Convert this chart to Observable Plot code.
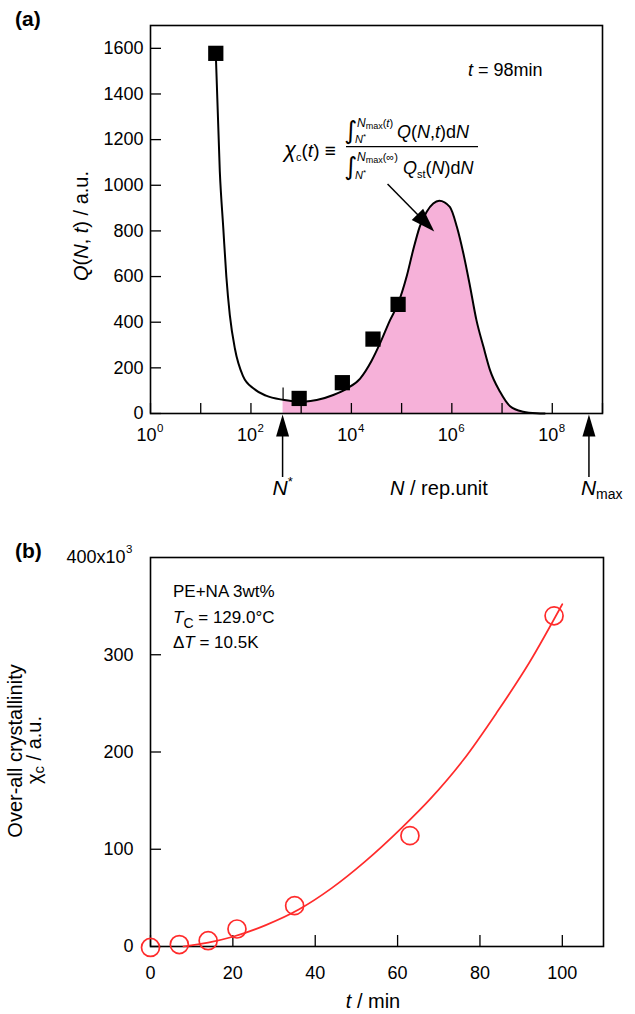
<!DOCTYPE html>
<html>
<head>
<meta charset="utf-8">
<script src="https://cdn.jsdelivr.net/npm/d3@7"></script>
<script src="https://cdn.jsdelivr.net/npm/@observablehq/plot@0.6"></script>
<style>
html,body{margin:0;padding:0;background:#fff;}
#root{width:635px;height:1014px;overflow:hidden;}
#root svg{display:block;}
</style>
</head>
<body>
<div id="root"></div>
<script>
// ---------- Panel (a) data ----------
const squareLogN = [1.30, 2.96, 3.82, 4.43, 4.93];
const squareQ    = [1578, 66, 135, 326, 478];
const curveLogN = [1.30,1.38,1.45,1.51,1.58,1.68,1.84,2.06,2.30,2.64,2.90,3.10,3.31,3.64,3.90,4.17,4.40,4.57,4.77,4.93,5.10,5.23,5.36,5.50,5.63,5.75,5.96,6.10,6.23,6.36,6.49,6.63,6.76,6.96,7.16,7.42,7.69,7.85];
const curveQ    = [1576,1060,810,600,430,285,165,108,78,60,53,53,59,81,108,152,230,307,409,482,600,716,818,884,920,932,905,818,701,560,409,292,190,95,32,8,1,0];
const nStarLog = 2.64;
const nMaxLog = 8.74;
const xTickDecades = [0,1,2,3,4,5,6,7,8,9];
const xLabelDecades = [0,2,4,6,8];
const yTicksA = [0,200,400,600,800,1000,1200,1400,1600];
const arrowFrom = {logN: 4.73, Q: 1003};
const arrowTo   = {logN: 5.66, Q: 795};

// ---------- Panel (b) data ----------
const tMin  = [0, 7, 14, 21, 35, 63, 98];
const chiC  = [-1, 2, 6, 18, 42, 114, 340];
const fitT   = [8, 14, 20, 28, 36, 44, 52, 61, 68, 76, 84, 92, 100];
const fitChi = [0, 4, 10, 22, 38, 60, 87, 122, 152, 192, 240, 292, 352];
const xTicksB = [0, 20, 40, 60, 80, 100];
const yTicksB = [0, 100, 200, 300];
const yTopTick = {value: 400, text: "400x10", exp: "3"};

// ---------- styling ----------
const FONT = "'Liberation Sans', Arial, Helvetica, sans-serif";
const PINK = "#f6b1d9";
const RED = "#ff2b2b";

// ---------- Panel (a) ----------
const A = {w:635, h:510, ml:150, mt:25, mr:33, mb:97};
const innerHA = A.h - A.mt - A.mb, innerWA = A.w - A.ml - A.mr;
const curveData = curveLogN.map((l,i)=>({N: 10**l, Q: curveQ[i], l}));
const fillData = curveData.filter(d => d.l >= nStarLog);
const squares = squareLogN.map((l,i)=>({N: 10**l, Q: squareQ[i]}));

const chartA = Plot.plot({
  width: A.w, height: A.h, marginLeft: A.ml, marginTop: A.mt, marginRight: A.mr, marginBottom: A.mb,
  style: {fontFamily: FONT, fontSize: "18px", background: "white", color: "black", overflow: "visible"},
  x: {type: "log", domain: [1, 1e9], axis: null},
  y: {domain: [0, 1700], axis: null},
  marks: [
    Plot.areaY(fillData, {x: "N", y: "Q", fill: PINK, curve: "monotone-x"}),
    Plot.line(curveData, {x: "N", y: "Q", stroke: "black", strokeWidth: 2, curve: "monotone-x"}),
    Plot.ruleX([10**nStarLog], {y1: 60, y2: 112, stroke: "black", strokeWidth: 1.2}),
    Plot.dot(squares, {x: "N", y: "Q", symbol: "square", r: 8.6, fill: "black"}),
    Plot.tickX(xTickDecades, {x: d => 10**d, insetTop: innerHA - 10, stroke: "black", strokeWidth: 1.3}),
    Plot.tickY(yTicksA, {y: d => d, insetRight: innerWA - 11, stroke: "black", strokeWidth: 1.3}),
    Plot.frame({stroke: "black", strokeWidth: 1.6}),
    Plot.text(yTicksA, {x: 1, y: d => d, text: d => String(d), textAnchor: "end", dx: -7, fontSize: 18}),
    Plot.text(xLabelDecades, {x: d => 10**d, y: 0, text: () => "10", textAnchor: "end", dx: 6, dy: 27, lineAnchor: "bottom", fontSize: 18}),
    Plot.text(xLabelDecades, {x: d => 10**d, y: 0, text: d => String(d), textAnchor: "start", dx: 6.5, dy: 18, lineAnchor: "bottom", fontSize: 11.5})
  ]
});

// ---------- Panel (b) ----------
const B = {w:635, h:504, ml:150, mt:47, mr:32, mb:68};
const innerHB = B.h - B.mt - B.mb, innerWB = B.w - B.ml - B.mr;
const pts = tMin.map((t,i)=>({t, c: chiC[i]}));
const fit = fitT.map((t,i)=>({t, c: fitChi[i]}));

const chartB = Plot.plot({
  width: B.w, height: B.h, marginLeft: B.ml, marginTop: B.mt, marginRight: B.mr, marginBottom: B.mb,
  style: {fontFamily: FONT, fontSize: "18px", background: "white", color: "black", overflow: "visible"},
  x: {domain: [0, 110], axis: null},
  y: {domain: [0, 400], axis: null},
  marks: [
    Plot.tickX(xTicksB, {x: d => d, insetTop: innerHB - 11, stroke: "black", strokeWidth: 1.3}),
    Plot.tickY(yTicksB, {y: d => d, insetRight: innerWB - 11, stroke: "black", strokeWidth: 1.3}),
    Plot.frame({stroke: "black", strokeWidth: 1.6}),
    Plot.line(fit, {x: "t", y: "c", stroke: RED, strokeWidth: 1.7, curve: "monotone-x"}),
    Plot.dot(pts, {x: "t", y: "c", r: 9, stroke: RED, strokeWidth: 1.7, fill: "none"}),
    Plot.text(yTicksB, {x: 0, y: d => d, text: d => String(d), textAnchor: "end", dx: -17, fontSize: 18}),
    Plot.text([yTopTick], {x: 0, y: d => d.value, text: d => d.text, textAnchor: "end", dx: -25, fontSize: 18}),
    Plot.text([yTopTick], {x: 0, y: d => d.value, text: d => d.exp, textAnchor: "start", dx: -24.5, dy: -8, fontSize: 11.5}),
    Plot.text(xTicksB, {x: d => d, y: 0, text: d => String(d), dy: 32, lineAnchor: "bottom", fontSize: 18})
  ]
});

const root = document.getElementById("root");
root.appendChild(chartA);
root.appendChild(chartB);

// ---------- annotation helpers ----------
function rich(g, x, y, parts, o = {}) {
  const t = g.append("text").attr("x", x).attr("y", y)
    .attr("font-size", o.size || 18).attr("text-anchor", o.anchor || "start").attr("fill", "black");
  if (o.weight) t.attr("font-weight", o.weight);
  if (o.family) t.attr("font-family", o.family);
  if (o.rotate) t.attr("transform", `rotate(${o.rotate},${x},${y})`);
  let cur = 0;
  for (const p of parts) {
    const q = typeof p === "string" ? {t: p} : p;
    const off = q.off || 0;
    const s = t.append("tspan").text(q.t);
    if (off - cur !== 0) s.attr("dy", off - cur);
    cur = off;
    if (q.i) s.attr("font-style", "italic");
    if (q.fs) s.attr("font-size", q.fs);
    if (q.dx) s.attr("dx", q.dx);
    if (q.ff) s.attr("font-family", q.ff);
  }
  return t;
}
function upArrow(g, x, yTip, yEnd) {
  g.append("path").attr("d", `M${x},${yTip + 12}V${yEnd}`).attr("stroke", "black").attr("stroke-width", 1.5).attr("fill", "none");
  g.append("path").attr("d", `M${x},${yTip}L${x - 6.5},${yTip + 22}L${x + 6.5},${yTip + 22}Z`).attr("fill", "black");
}
function arrow(g, x1, y1, x2, y2, len, hw) {
  const a = Math.atan2(y2 - y1, x2 - x1);
  const bx = x2 - len * Math.cos(a), by = y2 - len * Math.sin(a);
  const px = -Math.sin(a) * hw, py = Math.cos(a) * hw;
  g.append("path").attr("d", `M${x1},${y1}L${bx + 4*Math.cos(a)},${by + 4*Math.sin(a)}`).attr("stroke", "black").attr("stroke-width", 1.5);
  g.append("path").attr("d", `M${x2},${y2}L${bx + px},${by + py}L${bx - px},${by - py}Z`).attr("fill", "black");
}

// ---------- Panel (a) annotations ----------
const gA = d3.select(chartA).append("g");
const sxA = v => chartA.scale("x").apply(v);
const syA = v => chartA.scale("y").apply(v);
const y0A = syA(0);

rich(gA, 15, 26, ["(a)"], {size: 21, weight: "bold"});
rich(gA, 468, 76, [{t: "t", i: true}, " = 98min"], {size: 18});
rich(gA, 88, 226, [{t: "Q", i: true}, "(", {t: "N", i: true}, ", ", {t: "t", i: true}, ") / a.u."], {size: 20, anchor: "middle", rotate: -90});

// N* and Nmax arrows
upArrow(gA, sxA(10**nStarLog), y0A + 1.5, 477);
upArrow(gA, sxA(10**nMaxLog), y0A + 1.5, 477);
rich(gA, sxA(10**nStarLog) - 10, 495, [{t: "N", i: true}, {t: "*", fs: 13, off: -9}], {size: 21});
rich(gA, 390, 495, [{t: "N", i: true}, " / rep.unit"], {size: 20});
rich(gA, sxA(10**nMaxLog) - 8, 495, [{t: "N", i: true}, {t: "max", fs: 14, off: 4}], {size: 21});

// formula
rich(gA, 284, 157, [{t: "χ", i: true, fs: 22}, {t: "c", fs: 11, off: 4}, {t: "(", off: 0}, {t: "t", i: true}, ") ≡"], {size: 19});
gA.append("line").attr("x1", 346).attr("x2", 478).attr("y1", 146.7).attr("y2", 146.7).attr("stroke", "black").attr("stroke-width", 1.3);
// numerator
rich(gA, 344, 139, ["∫"], {size: 25, family: "'DejaVu Sans', sans-serif"});
rich(gA, 357, 127, [{t: "N", i: true, fs: 12}, {t: "max", fs: 9, off: 2}, {t: "(", off: 0}, {t: "t", i: true}, ")"], {size: 11});
rich(gA, 355, 143, [{t: "N", i: true}, {t: "*", fs: 8, off: -4}], {size: 11});
rich(gA, 397, 137.5, [{t: "Q", i: true}, "(", {t: "N", i: true}, ",", {t: "t", i: true}, ")d", {t: "N", i: true}], {size: 18});
// denominator
rich(gA, 344, 175, ["∫"], {size: 25, family: "'DejaVu Sans', sans-serif"});
rich(gA, 357, 161, [{t: "N", i: true, fs: 12}, {t: "max", fs: 9, off: 2}, {t: "(∞)", off: 0}], {size: 11});
rich(gA, 355, 179, [{t: "N", i: true}, {t: "*", fs: 8, off: -4}], {size: 11});
rich(gA, 403, 173.5, [{t: "Q", i: true}, {t: "st", fs: 11, off: 4}, {t: "(", off: 0}, {t: "N", i: true}, ")d", {t: "N", i: true}], {size: 18});
// pointer arrow
arrow(gA, sxA(10**arrowFrom.logN), syA(arrowFrom.Q), sxA(10**arrowTo.logN), syA(arrowTo.Q), 24, 8);

// ---------- Panel (b) annotations ----------
const gB = d3.select(chartB).append("g");
rich(gB, 15, 48, ["(b)"], {size: 21, weight: "bold"});
rich(gB, 173, 87, ["PE+NA 3wt%"], {size: 17});
rich(gB, 173, 112.5, [{t: "T", i: true}, {t: "C", fs: 14, off: 5}, {t: " = 129.0°C", off: 0}], {size: 17});
rich(gB, 173, 138, ["Δ", {t: "T", i: true}, " = 10.5K"], {size: 17});
rich(gB, 22, 241, ["Over-all crystallinity"], {size: 20, anchor: "middle", rotate: -90});
rich(gB, 41, 240, ["χ", {t: "c", fs: 15, off: 3}, {t: " / a.u.", off: 0}], {size: 20, anchor: "middle", rotate: -90});
rich(gB, 373, 498, [{t: "t", i: true}, " / min"], {size: 20, anchor: "middle"});
</script>
</body>
</html>
